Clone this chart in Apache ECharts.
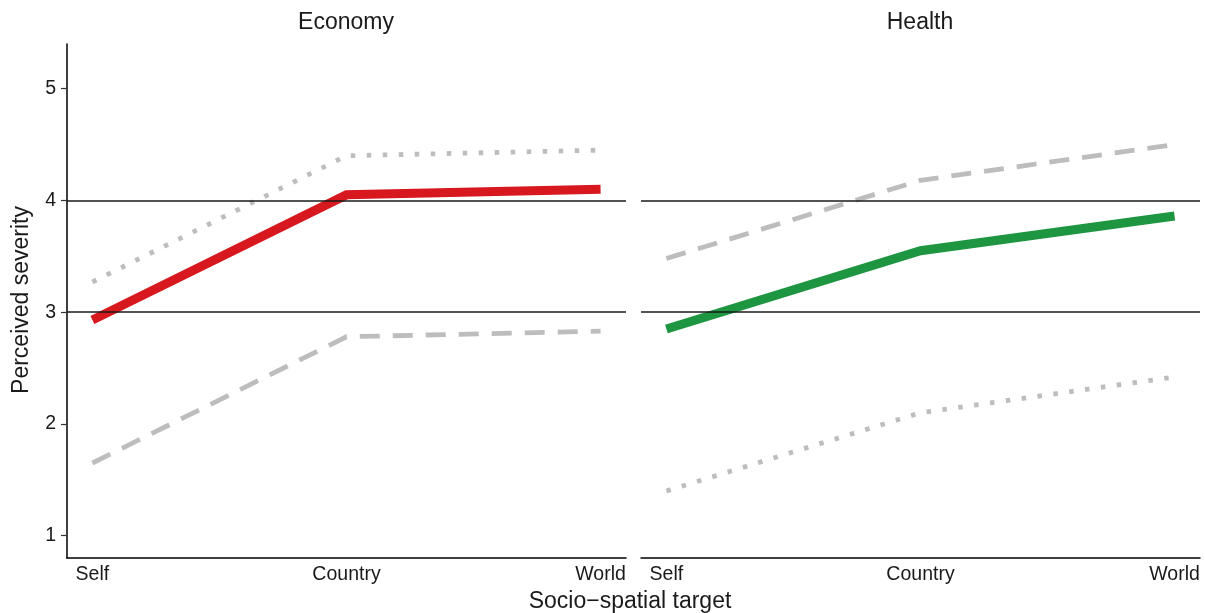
<!DOCTYPE html>
<html>
<head>
<meta charset="utf-8">
<script src="https://cdn.jsdelivr.net/npm/echarts@6/dist/echarts.min.js"></script>
<style>
html,body{margin:0;padding:0;background:#fff;}
#chart{width:1205px;height:613px;}
</style>
</head>
<body>
<div id="chart"></div>
<script>
// ---- data ----
var panels = ['Economy', 'Health'];
var categories = ['Self', 'Country', 'World'];
var yTicks = [1, 2, 3, 4, 5];
var refLines = [3, 4];
var economyMain = [2.93, 4.05, 4.10];
var economyDotted = [3.27, 4.40, 4.45];
var economyDashed = [1.65, 2.78, 2.83];
var healthMain = [2.85, 3.55, 3.86];
var healthDashed = [3.48, 4.18, 4.50];
var healthDotted = [1.40, 2.10, 2.42];

function pts(arr) { return arr.map(function (v, i) { return [i + 1, v]; }); }

var FONT = 'Liberation Sans, Arial, sans-serif';
var chart = echarts.init(document.getElementById('chart'));

function xAxisFor(idx) {
  return {
    type: 'value', gridIndex: idx, min: 0.9, max: 3.1,
    axisLine: { show: true, onZero: false, lineStyle: { color: '#000', width: 1.5 } },
    axisTick: { show: false },
    splitLine: { show: false },
    axisLabel: {
      customValues: [1, 2, 3],
      formatter: function (v) { return categories[Math.round(v) - 1]; },
      color: '#1a1a1a', fontSize: 19.5, fontFamily: FONT, margin: 7
    }
  };
}
function yAxisFor(idx, showAxis) {
  return {
    type: 'value', gridIndex: idx, min: 0.8, max: 5.4,
    axisLine: { show: showAxis, onZero: false, lineStyle: { color: '#000', width: 1.5 } },
    axisTick: { show: showAxis, customValues: yTicks, length: 6, lineStyle: { color: '#333', width: 1.2 } },
    splitLine: { show: false },
    axisLabel: {
      show: showAxis, customValues: yTicks, color: '#1a1a1a',
      fontSize: 19.5, fontFamily: FONT, margin: 11
    }
  };
}
function grayLine(idx, data, dash) {
  return {
    type: 'line', xAxisIndex: idx, yAxisIndex: idx, data: pts(data),
    symbol: 'none', silent: true, z: 2,
    lineStyle: { color: '#bdbdbd', width: 4.8, type: dash, cap: 'butt', join: 'miter' }
  };
}
function mainLine(idx, data, color) {
  return {
    type: 'line', xAxisIndex: idx, yAxisIndex: idx, data: pts(data),
    symbol: 'none', silent: true, z: 3,
    lineStyle: { color: color, width: 9, cap: 'butt', join: 'miter' }
  };
}
function refSeries(idx) {
  return {
    type: 'line', xAxisIndex: idx, yAxisIndex: idx, data: [], z: 5,
    symbol: 'none', silent: true,
    markLine: {
      silent: true, symbol: ['none', 'none'], label: { show: false },
      lineStyle: { color: '#1a1a1a', width: 1.5, type: 'solid' },
      emphasis: { disabled: true },
      data: refLines.map(function (v) { return { yAxis: v }; })
    }
  };
}

function txt(s, x, y, size, rot) {
  return {
    type: 'text', x: x, y: y, rotation: rot || 0,
    style: { text: s, fontSize: size, fill: '#1a1a1a', fontFamily: FONT, align: 'center', verticalAlign: 'middle' }
  };
}

chart.setOption({
  animation: false,
  backgroundColor: '#fff',
  graphic: [
    txt(panels[0], 346, 23, 23),
    txt(panels[1], 920, 23, 23),
    txt('Socio\u2212spatial target', 630, 602, 23),
    txt('Perceived severity', 22, 300, 23, Math.PI / 2)
  ],
  grid: [
    { left: 67, top: 44, width: 559, bottom: 55 },
    { left: 641, top: 44, width: 559, bottom: 55 }
  ],
  xAxis: [xAxisFor(0), xAxisFor(1)],
  yAxis: [yAxisFor(0, true), yAxisFor(1, false)],
  series: [
    grayLine(0, economyDotted, [4.5, 11.5]),
    grayLine(0, economyDashed, [20, 13]),
    mainLine(0, economyMain, '#d7191f'),
    refSeries(0),
    grayLine(1, healthDashed, [20, 13]),
    grayLine(1, healthDotted, [4.5, 11.5]),
    mainLine(1, healthMain, '#1e9641'),
    refSeries(1)
  ]
});
</script>
</body>
</html>
